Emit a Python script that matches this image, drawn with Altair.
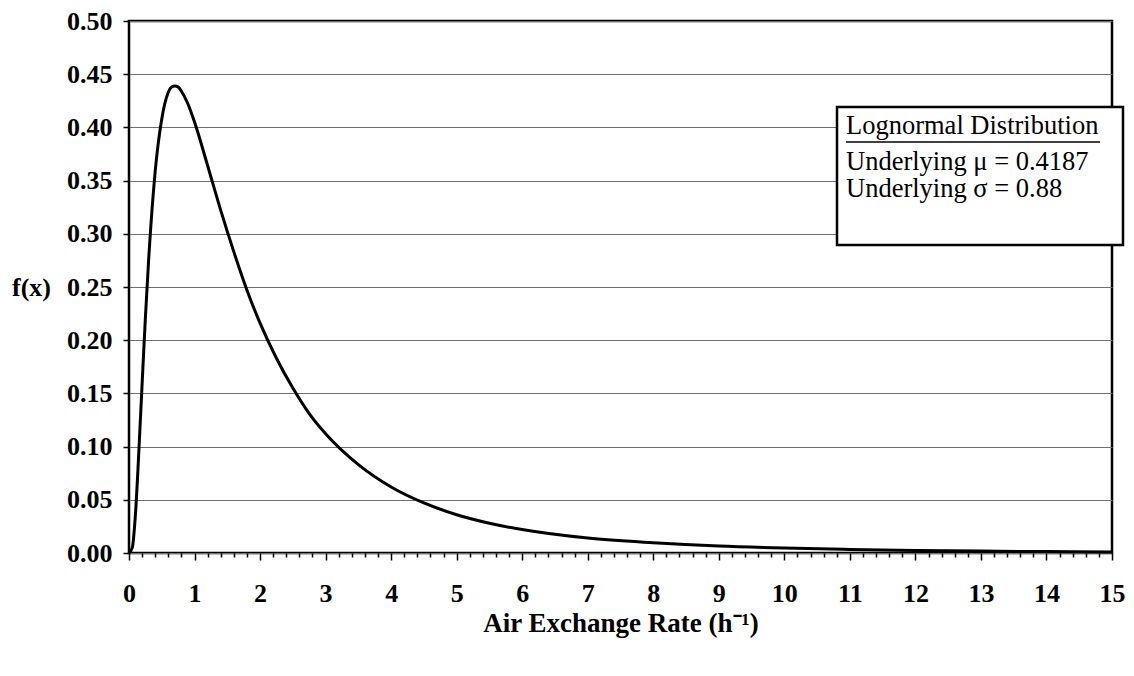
import altair as alt
import pandas as pd

# Curve values (Air exchange rate, f(x))
x_vals = [0, 0.05, 0.1, 0.15, 0.2, 0.25, 0.3, 0.4, 0.5, 0.6, 0.65, 0.7, 0.75, 0.8, 0.9, 1.0,
          1.2, 1.4, 1.6, 1.8, 2.0, 2.25, 2.5, 2.75, 3.0, 3.5, 4.0, 4.5, 5.0, 5.5,
          6, 7, 8, 9, 10, 11, 12, 13, 14, 15]
f_vals = [0.0, 0.005, 0.038, 0.095, 0.159, 0.221, 0.276, 0.359, 0.408, 0.433, 0.438, 0.439,
          0.438, 0.434, 0.422, 0.405, 0.364, 0.322, 0.283, 0.247, 0.216, 0.183, 0.155,
          0.131, 0.112, 0.083, 0.062, 0.047, 0.036, 0.028, 0.022, 0.014, 0.0096,
          0.0065, 0.0046, 0.0033, 0.0024, 0.0018, 0.0013, 0.0010]

y_ticks = [0.0, 0.05, 0.1, 0.15, 0.2, 0.25, 0.3, 0.35, 0.4, 0.45, 0.5]
x_ticks = [round(i * 0.2, 1) for i in range(76)]

legend_title = "Lognormal Distribution"
legend_lines = ["Underlying μ = 0.4187", "Underlying σ = 0.88"]

FONT = "Liberation Serif"
W, H = 983, 532

df = pd.DataFrame({"x": x_vals, "f": f_vals})

x_axis = alt.Axis(
    values=x_ticks,
    labelExpr="datum.value % 1 === 0 ? format(datum.value, 'd') : ''",
    labelOverlap=False,
    labelFlush=False,
    grid=False,
    domain=False,
    tickColor="black",
    tickWidth=1.5,
    tickSize={"condition": {"test": "datum.value % 1 === 0", "value": 7}, "value": 4},
    labelFont=FONT,
    labelFontSize=26,
    labelFontWeight="bold",
    labelColor="black",
    labelPadding=20,
    title="Air Exchange Rate (h⁻¹)",
    titleFont=FONT,
    titleFontSize=27,
    titleFontWeight="bold",
    titleColor="black",
    titleBaseline="middle",
    titleY=70,
)

y_axis = alt.Axis(
    values=y_ticks,
    format=".2f",
    grid=True,
    gridColor="#6e6e6e",
    gridWidth=1,
    domain=False,
    tickColor="black",
    tickWidth=1.5,
    tickSize=6,
    labelFont=FONT,
    labelFontSize=26,
    labelFontWeight="bold",
    labelColor="black",
    labelPadding=11,
    title="f(x)",
    titleFont=FONT,
    titleFontSize=26,
    titleFontWeight="bold",
    titleColor="black",
    titleAngle=0,
    titleAlign="center",
    titleBaseline="middle",
    titleX=-98,
    titleY=266,
)

line = alt.Chart(df).mark_line(color="black", strokeWidth=3, interpolate="monotone").encode(
    x=alt.X("x:Q", scale=alt.Scale(domain=[0, 15], nice=False), axis=x_axis),
    y=alt.Y("f:Q", scale=alt.Scale(domain=[0, 0.5], nice=False), axis=y_axis),
)

box = alt.Chart(pd.DataFrame({"k": [0]})).mark_rect(
    fill="white", stroke="black", strokeWidth=2.5
).encode(
    x=alt.value(708), x2=alt.value(994), y=alt.value(86), y2=alt.value(224)
)

title_txt = alt.Chart(pd.DataFrame({"t": [legend_title]})).mark_text(
    font=FONT, fontSize=26.5, align="left", baseline="alphabetic", color="black"
).encode(x=alt.value(717), y=alt.value(113), text="t:N")

underline = alt.Chart(pd.DataFrame({"k": [0]})).mark_rule(
    color="black", strokeWidth=1.5
).encode(x=alt.value(717), x2=alt.value(971), y=alt.value(121))

lines_txt = alt.Chart(pd.DataFrame({"t": legend_lines, "yy": [149, 176]})).mark_text(
    font=FONT, fontSize=26.5, align="left", baseline="alphabetic", color="black"
).encode(x=alt.value(717), y=alt.Y("yy:Q", scale=None), text="t:N")

chart = alt.layer(line, box, title_txt, underline, lines_txt).properties(
    width=W,
    height=H,
    autosize=alt.AutoSizeParams(type="none"),
    padding={"left": 121, "top": 13, "right": 14, "bottom": 115},
    background="white",
).configure_view(stroke="black", strokeWidth=2.5)

chart.save("out.html", embed_options={"renderer": "svg", "actions": False})
